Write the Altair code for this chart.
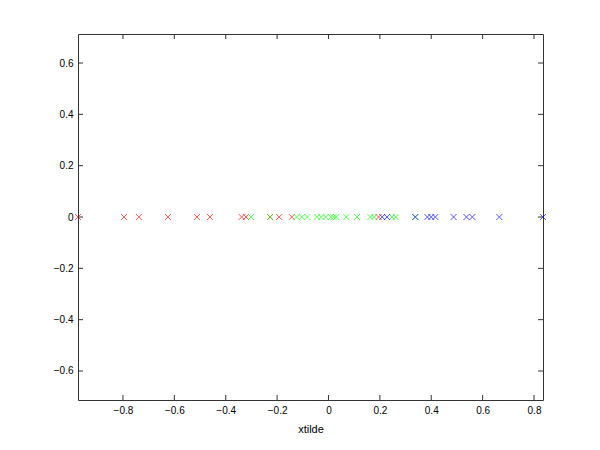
import altair as alt
import pandas as pd

# Projected values (xtilde) for each class
red_vals = [-0.975, -0.796, -0.738, -0.625, -0.512, -0.461, -0.338, -0.321,
            -0.227, -0.192, -0.143, 0.195]
green_vals = [-0.302, -0.227, -0.124, -0.104, -0.082, -0.044, -0.028, -0.011,
              0.009, 0.020, 0.030, 0.069, 0.111, 0.163, 0.178, 0.247, 0.262, 0.338]
blue_vals = [0.209, 0.228, 0.338, 0.385, 0.400, 0.416, 0.487, 0.537, 0.560,
             0.665, 0.835]

classes = ["red", "green", "blue"]
class_colors = ["#ff0000", "#00ff00", "#0000ff"]

x_ticks = [-0.8, -0.6, -0.4, -0.2, 0, 0.2, 0.4, 0.6, 0.8]
y_ticks = [-0.6, -0.4, -0.2, 0, 0.2, 0.4, 0.6]
x_domain = [-0.975, 0.835]
y_domain = [-0.713, 0.713]

rows = []
for cls, vals in zip(classes, [red_vals, green_vals, blue_vals]):
    for v in vals:
        rows.append({"cls": cls, "xtilde": v, "y": 0.0})
df = pd.DataFrame(rows)
df["ord"] = range(len(df))

xscale = alt.Scale(domain=x_domain, nice=False, zero=False)
yscale = alt.Scale(domain=y_domain, nice=False, zero=False)

W, H = 465, 366

points = alt.Chart(df).mark_point(
    shape="M-1,-1L1,1M-1,1L1,-1", filled=False, strokeWidth=1, size=36,
    opacity=0.65
).encode(
    x=alt.X("xtilde:Q", scale=xscale, title="xtilde",
            axis=alt.Axis(values=x_ticks, format="~g", grid=False, domain=False,
                          ticks=False, labelPadding=5, titlePadding=8,
                          labelFlush=False)),
    y=alt.Y("y:Q", scale=yscale, title=None,
            axis=alt.Axis(values=y_ticks, format="~g", grid=False, domain=False,
                          ticks=False, labelPadding=5)),
    color=alt.Color("cls:N", scale=alt.Scale(domain=classes, range=class_colors),
                    legend=None),
    order=alt.Order("ord:Q"),
)

xt = pd.DataFrame({"t": x_ticks})
yt = pd.DataFrame({"t": y_ticks})
tick_col = "#333333"

bottom = alt.Chart(xt).mark_rule(color=tick_col, strokeWidth=1).encode(
    x=alt.X("t:Q", scale=xscale), y=alt.value(H), y2=alt.value(H - 5))
top = alt.Chart(xt).mark_rule(color=tick_col, strokeWidth=1).encode(
    x=alt.X("t:Q", scale=xscale), y=alt.value(0), y2=alt.value(5))
left = alt.Chart(yt).mark_rule(color=tick_col, strokeWidth=1).encode(
    y=alt.Y("t:Q", scale=yscale), x=alt.value(0), x2=alt.value(5))
right = alt.Chart(yt).mark_rule(color=tick_col, strokeWidth=1).encode(
    y=alt.Y("t:Q", scale=yscale), x=alt.value(W), x2=alt.value(W - 5))

chart = alt.layer(points, bottom, top, left, right).properties(
    width=W, height=H,
    autosize=alt.AutoSizeParams(type="none"),
    padding={"left": 70, "top": 26, "right": 49, "bottom": 42},
    background="white",
).configure_view(
    stroke=tick_col, strokeWidth=1
).configure_axis(
    labelFont="Liberation Sans", labelFontSize=10, labelColor="#000000",
    titleFont="Liberation Sans", titleFontSize=11, titleFontWeight="normal",
    titleColor="#000000",
)

chart.save("out.html", embed_options={"renderer": "svg", "actions": False})
